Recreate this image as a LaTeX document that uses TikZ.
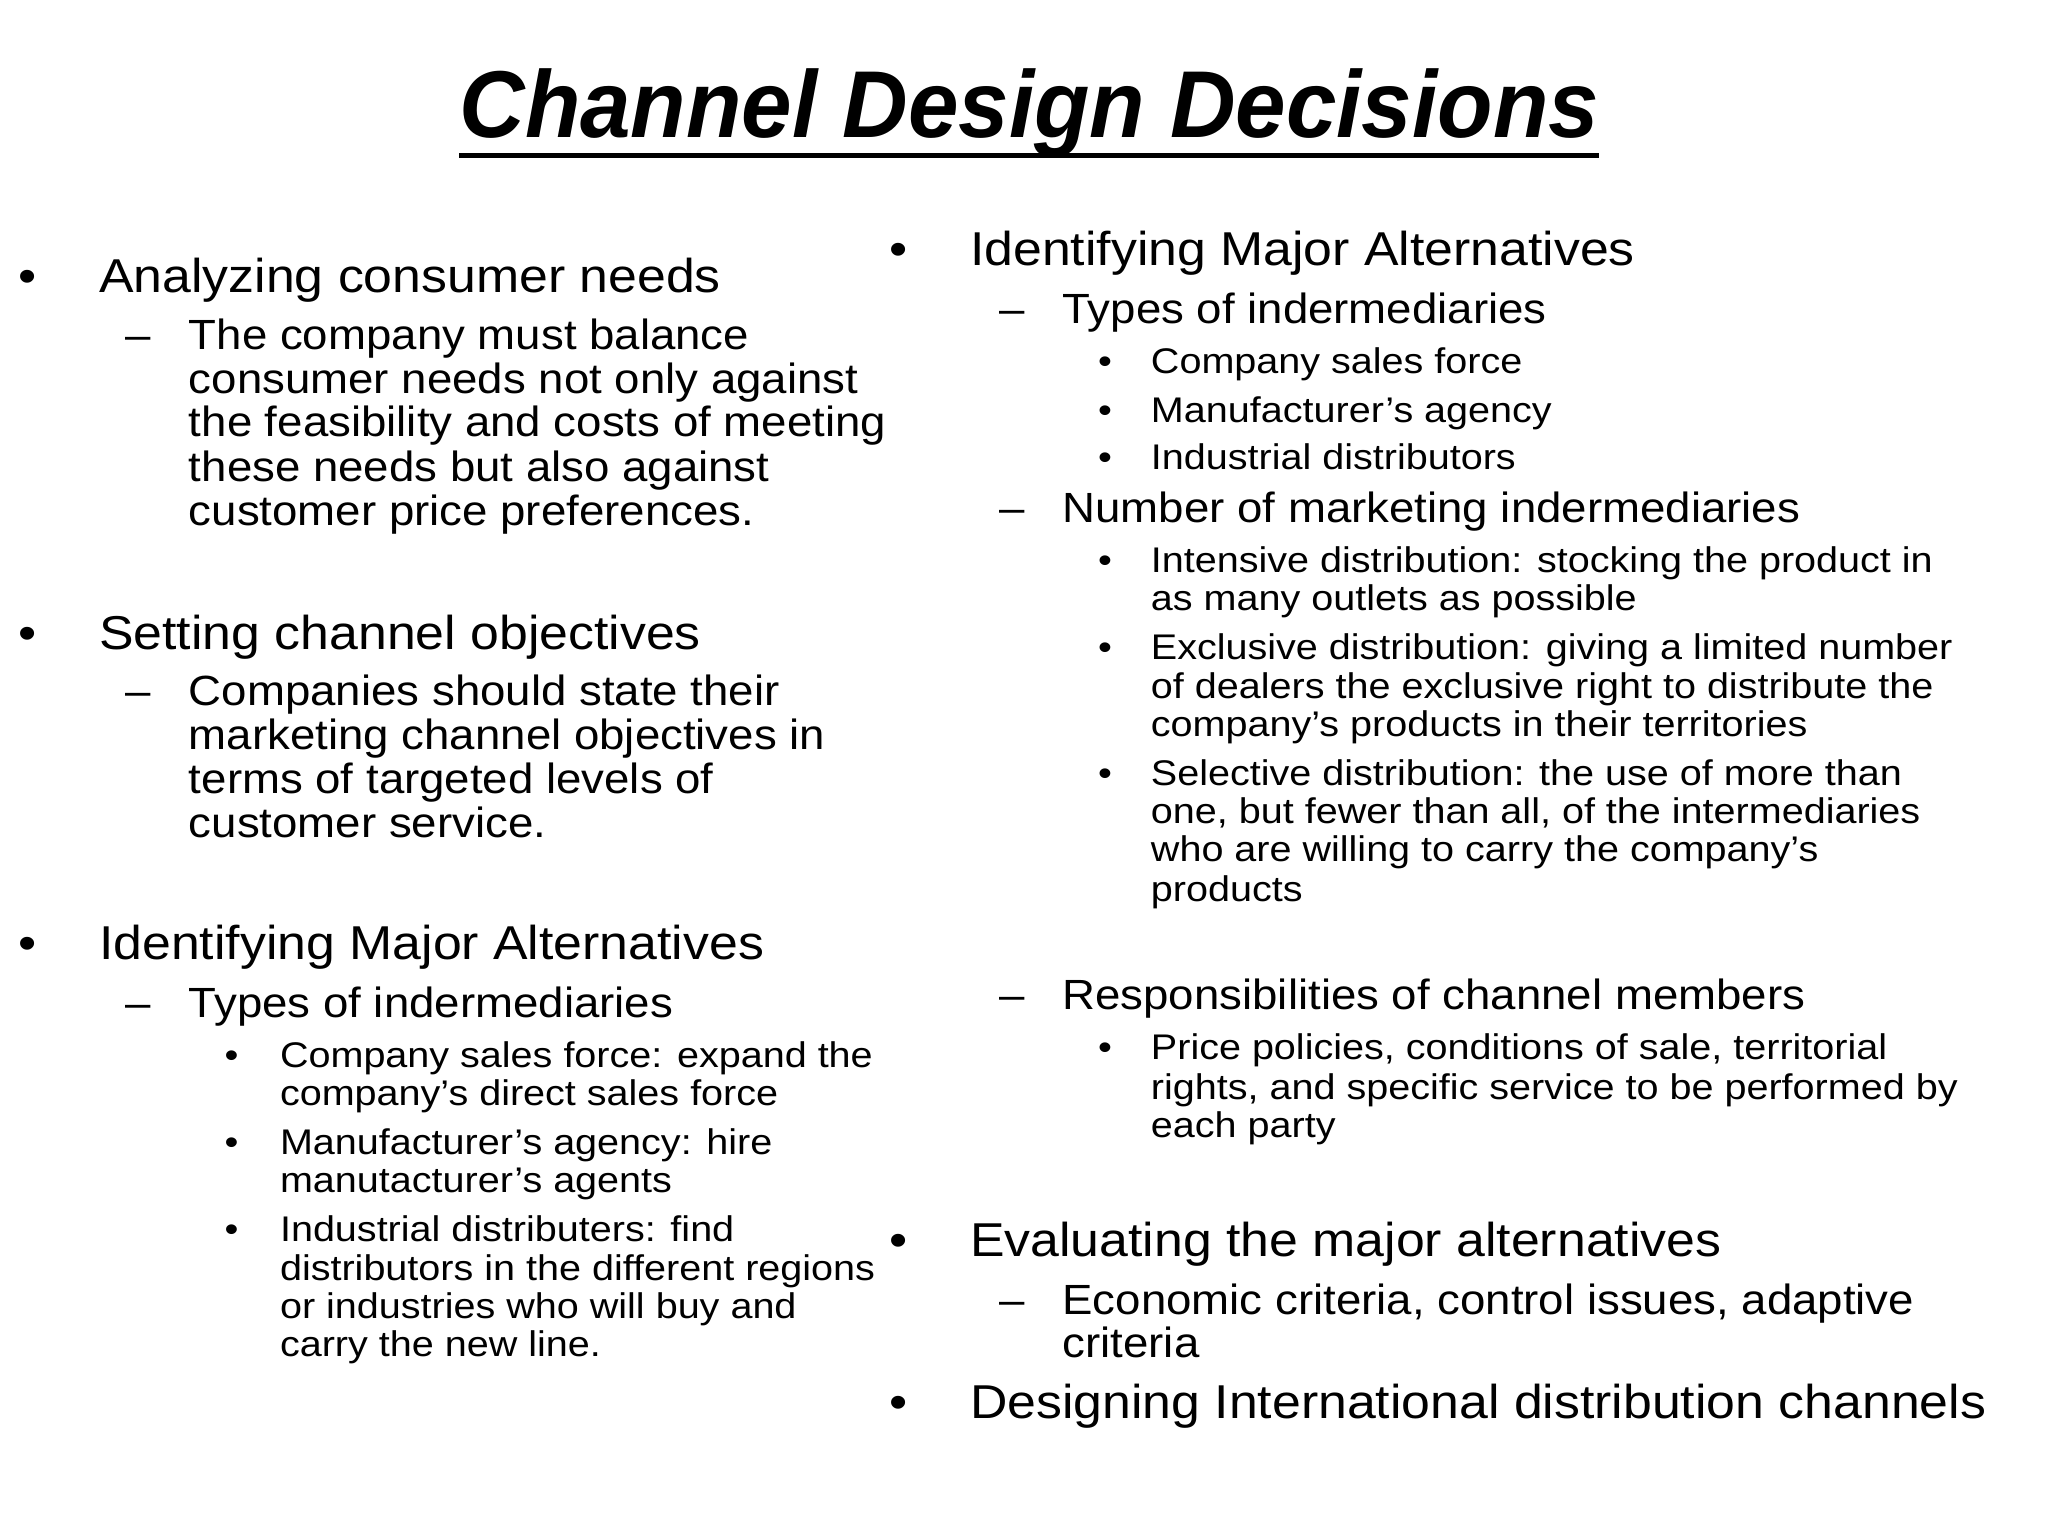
\documentclass[tikz,border=0pt]{standalone}
\usepackage{fontspec}
\setmainfont{Liberation Sans}
\newfontfamily\fa[FakeStretch=1.09]{Liberation Sans}
\newfontfamily\fb[FakeStretch=1.08]{Liberation Sans}
\newfontfamily\fc[FakeStretch=1.11]{Liberation Sans}
\newfontfamily\ft[FakeStretch=0.955]{Liberation Sans}
\begin{document}
\begin{tikzpicture}[x=1pt,y=-1pt,
 every node/.style={anchor=base west,inner sep=0pt},
 la/.style={font=\fa\fontsize{36}{36}\selectfont},
 lb/.style={font=\fb\fontsize{32}{32}\selectfont},
 lc/.style={font=\fc\fontsize{27}{27}\selectfont}]
\useasboundingbox (0,0) rectangle (1552,1164);
\node[anchor=base,font=\ft\fontsize{72}{72}\selectfont\bfseries\itshape] (title) at (780,104) {Channel Design Decisions};
\draw[line width=4pt] ([yshift=-14pt]title.base west) -- ([yshift=-14pt]title.base east);
% left column
\node[la] (b1) at (14,222) {•}; \node[la] (t1) at (75,222) {Analyzing consumer needs};
\node[lb] (d1) at (95,265) {–};
\node[lb] (t1a) at (143,265) {The company must balance};
\node[lb] (t1b) at (143,298) {consumer needs not only against};
\node[lb] (t1c) at (143,331) {the feasibility and costs of meeting};
\node[lb] (t1d) at (143,365) {these needs but also against};
\node[lb] (t1e) at (143,398) {customer price preferences.};
\node[la] (b2) at (14,492) {•}; \node[la] (t2) at (75,492) {Setting channel objectives};
\node[lb] (d2) at (95,535) {–};
\node[lb] (t2a) at (143,535) {Companies should state their};
\node[lb] (t2b) at (143,568) {marketing channel objectives in};
\node[lb] (t2c) at (143,601) {terms of targeted levels of};
\node[lb] (t2d) at (143,635) {customer service.};
\node[la] (b3) at (14,727) {•}; \node[la] (t3) at (75,727) {Identifying Major Alternatives};
\node[lb] (d3) at (95,771) {–}; \node[lb] (t3a) at (143,771) {Types of indermediaries};
\node[lc] (e1) at (170,809) {•}; \node[lc] (u1) at (212,809) {Company sales force: expand the};
\node[lc] (u1b) at (212,838) {company’s direct sales force};
\node[lc] (e2) at (170,875) {•}; \node[lc] (u2) at (212,875) {Manufacturer’s agency: hire};
\node[lc] (u2b) at (212,904) {manutacturer’s agents};
\node[lc] (e3) at (170,941) {•}; \node[lc] (u3) at (212,941) {Industrial distributers: find};
\node[lc] (u3b) at (212,970) {distributors in the different regions};
\node[lc] (u3c) at (212,999) {or industries who will buy and};
\node[lc] (u3d) at (212,1028) {carry the new line.};
% right column
\node[la] (rb1) at (674,201) {•}; \node[la] (r1) at (735,201) {Identifying Major Alternatives};
\node[lb] (rd1) at (757,245) {–}; \node[lb] (r1a) at (805,245) {Types of indermediaries};
\node[lc] (rf1) at (832,283) {•}; \node[lc] (v1) at (872,283) {Company sales force};
\node[lc] (rf2) at (832,320) {•}; \node[lc] (v2) at (872,320) {Manufacturer’s agency};
\node[lc] (rf3) at (832,356) {•}; \node[lc] (v3) at (872,356) {Industrial distributors};
\node[lb] (rd2) at (757,396) {–}; \node[lb] (r1b) at (805,396) {Number of marketing indermediaries};
\node[lc] (rf4) at (832,434) {•}; \node[lc] (w1) at (872,434) {Intensive distribution: stocking the product in};
\node[lc] (w1b) at (872,463) {as many outlets as possible};
\node[lc] (rf5) at (832,500) {•}; \node[lc] (w2) at (872,500) {Exclusive distribution: giving a limited number};
\node[lc] (w2b) at (872,529) {of dealers the exclusive right to distribute the};
\node[lc] (w2c) at (872,558) {company’s products in their territories};
\node[lc] (rf6) at (832,595) {•}; \node[lc] (w3) at (872,595) {Selective distribution: the use of more than};
\node[lc] (w3b) at (872,624) {one, but fewer than all, of the intermediaries};
\node[lc] (w3c) at (872,653) {who are willing to carry the company’s};
\node[lc] (w3d) at (872,683) {products};
\node[lb] (rd3) at (757,765) {–}; \node[lb] (r1c) at (805,765) {Responsibilities of channel members};
\node[lc] (rf7) at (832,803) {•}; \node[lc] (x1) at (872,803) {Price policies, conditions of sale, territorial};
\node[lc] (x1b) at (872,833) {rights, and specific service to be performed by};
\node[lc] (x1c) at (872,862) {each party};
\node[la] (rb2) at (674,952) {•}; \node[la] (r2) at (735,952) {Evaluating the major alternatives};
\node[lb] (rd4) at (757,996) {–}; \node[lb] (r2a) at (805,996) {Economic criteria, control issues, adaptive};
\node[lb] (r2b) at (805,1029) {criteria};
\node[la] (rb3) at (674,1075) {•}; \node[la] (r3) at (735,1075) {Designing International distribution channels};
\end{tikzpicture}
\end{document}
